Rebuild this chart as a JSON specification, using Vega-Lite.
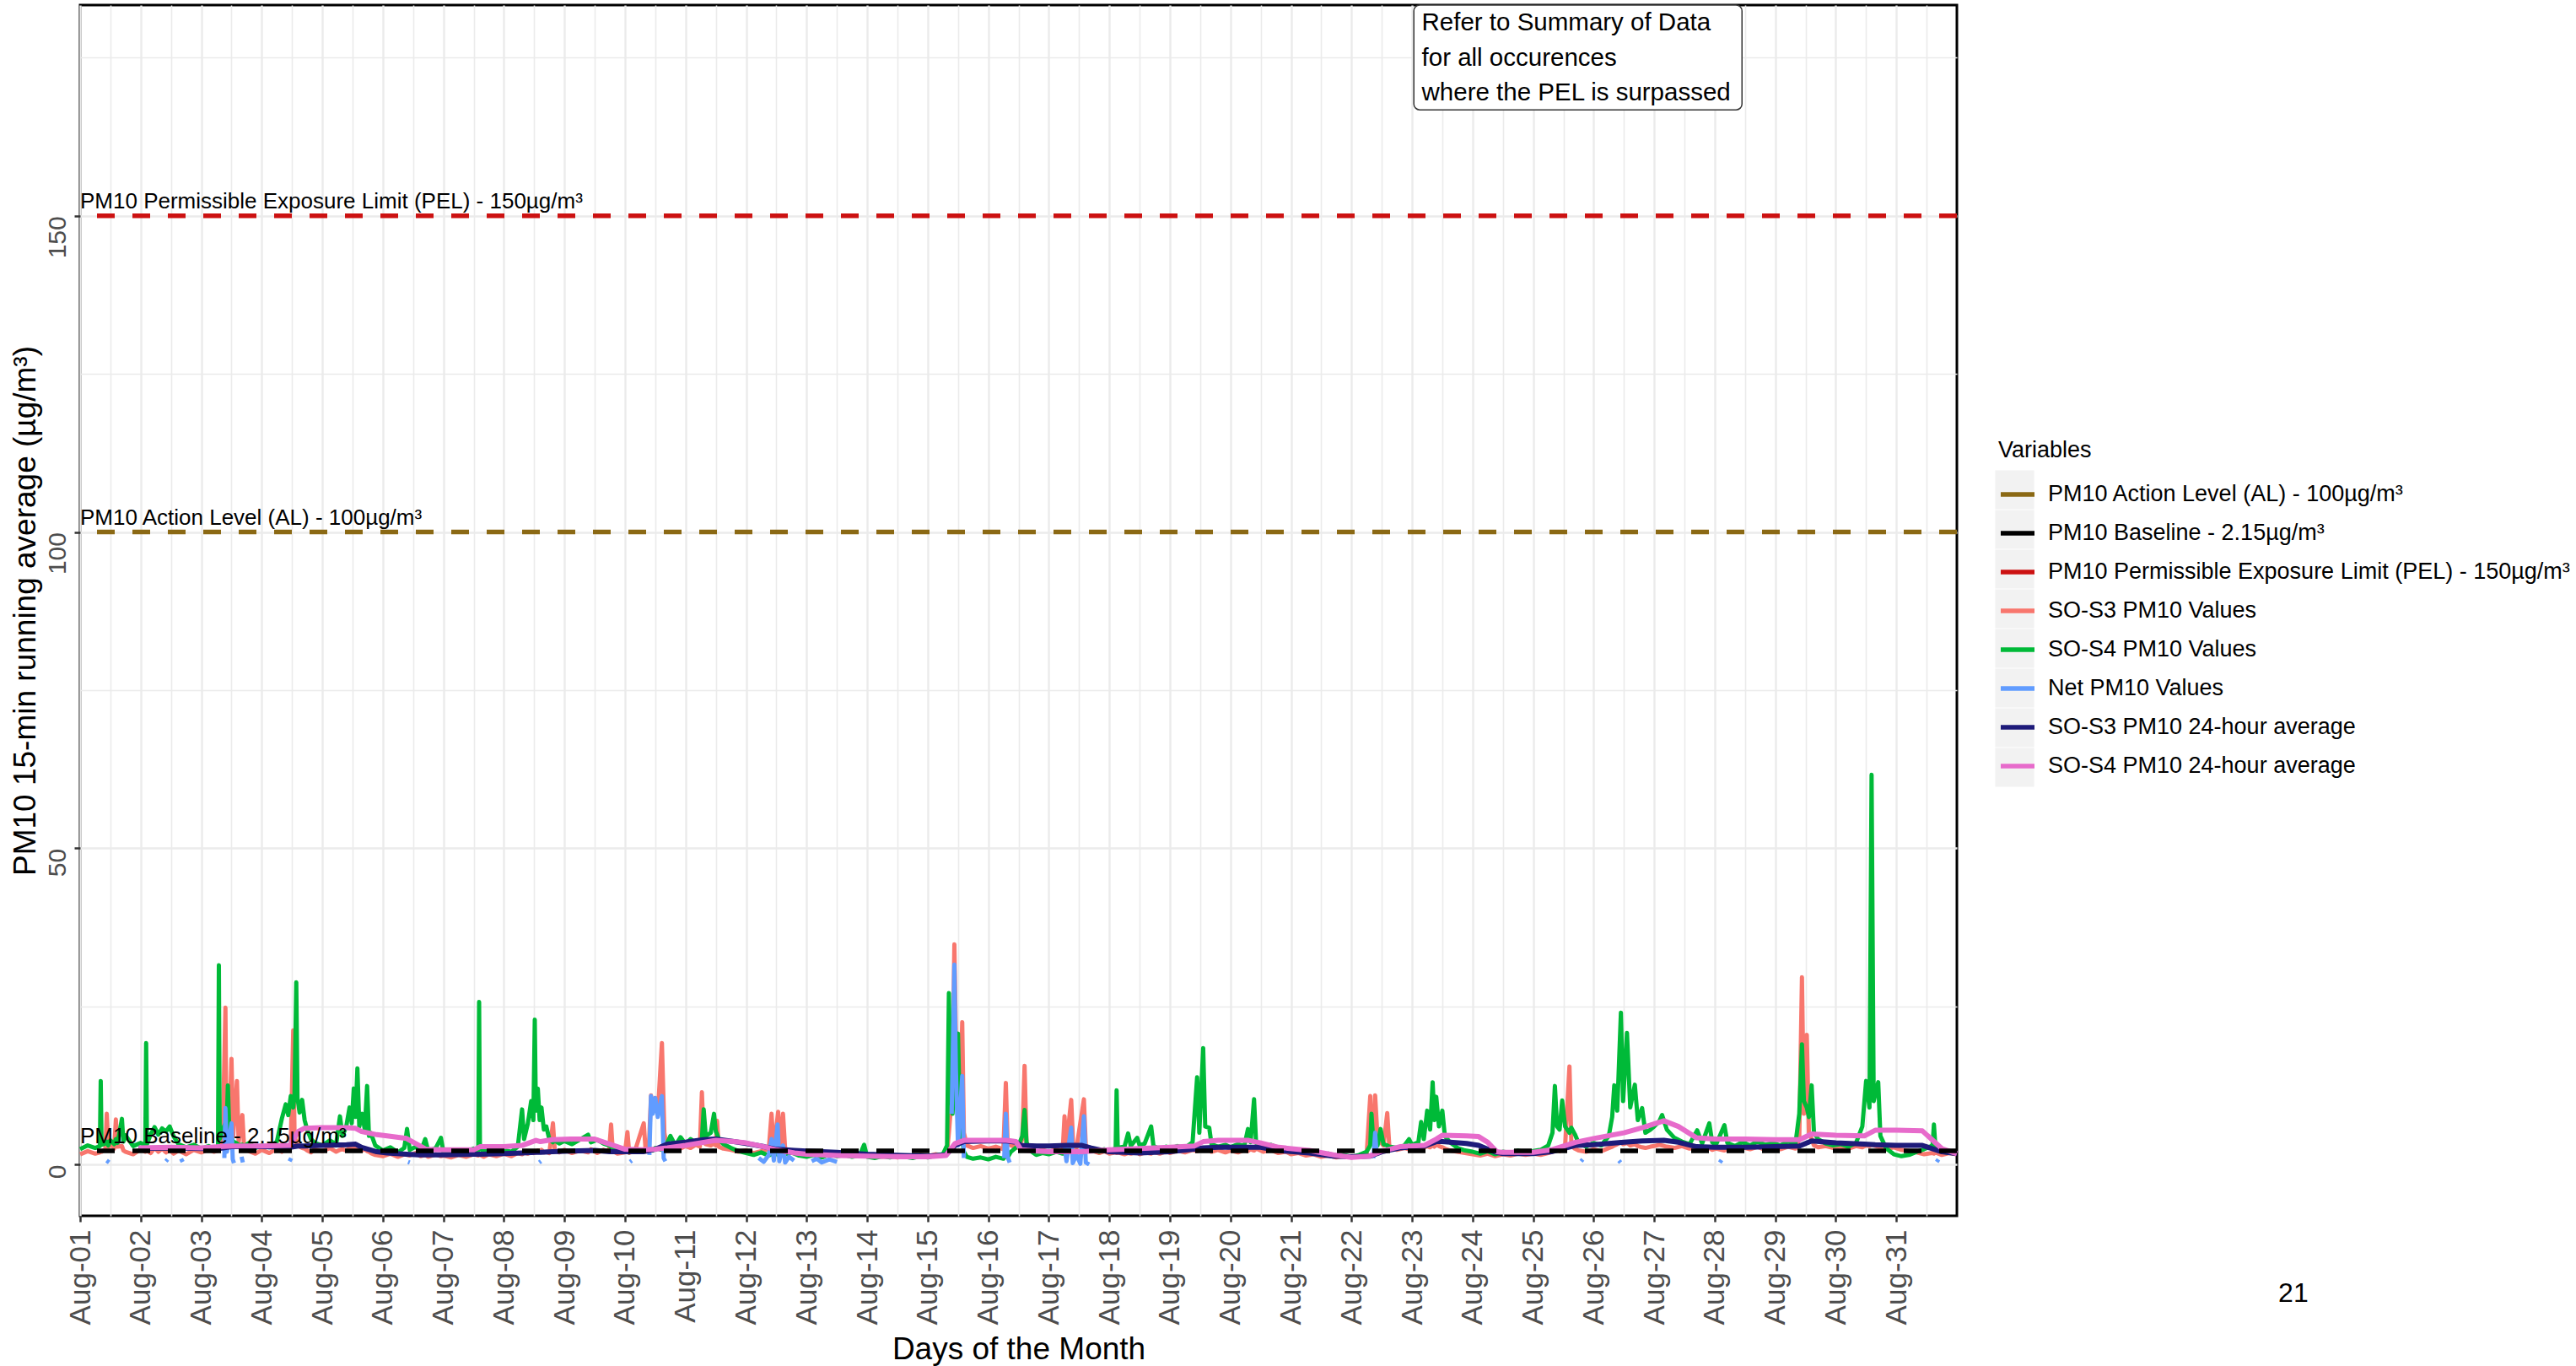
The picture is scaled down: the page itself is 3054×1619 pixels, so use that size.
{
"$schema":"https://vega.github.io/schema/vega-lite/v6.json",
"width":2225,"height":1435,
"autosize":{"type":"none"},
"padding":{"left":95,"top":6,"right":734,"bottom":178},
"background":"white",
"config":{"font":"Liberation Sans","view":{"stroke":"black","strokeWidth":3}},
"datasets":{
"refs":[{"k":"al","t":"2023-08-01T00:00","v":100,"label":"PM10 Action Level (AL) - 100µg/m³"},{"k":"bl","t":"2023-08-01T00:00","v":2.15,"label":"PM10 Baseline - 2.15µg/m³"},{"k":"pel","t":"2023-08-01T00:00","v":150,"label":"PM10 Permissible Exposure Limit (PEL) - 150µg/m³"}],
"keys":[{"q":"1","t":"2023-09-10T00:00","v":500},{"q":"2","t":"2023-09-10T00:00","v":500},{"q":"3","t":"2023-09-10T00:00","v":500},{"q":"4","t":"2023-09-10T00:00","v":500},{"q":"5","t":"2023-09-10T00:00","v":500},{"q":"6","t":"2023-09-10T00:00","v":500},{"q":"7","t":"2023-09-10T00:00","v":500},{"q":"8","t":"2023-09-10T00:00","v":500}],
"note":[{"t":"2023-08-23T00:43","t2":"2023-08-28T10:48","v":166.76,"v2":183.33}],
"noteText":[{"t":"2023-08-23T03:50","v":179.3,"txt":"Refer to Summary of Data"},{"t":"2023-08-23T03:50","v":173.7,"txt":"for all occurences"},{"t":"2023-08-23T03:50","v":168.2,"txt":"where the PEL is surpassed"}],
"page":[{"t":"2023-09-06T13:22","v":-20.4,"txt":"21"}],
"raw":[
{"t":"2023-08-01T00:00","a":1.6,"b":2.4},{"t":"2023-08-01T03:00","a":2.1,"b":3.0},{"t":"2023-08-01T06:00","a":1.7,"b":2.6},{"t":"2023-08-01T07:50","a":1.9,"b":2.9},{"t":"2023-08-01T08:10","a":2.0,"b":13.2},{"t":"2023-08-01T08:30","a":2.0,"b":3.1},{"t":"2023-08-01T10:00","a":2.4,"b":3.3},{"t":"2023-08-01T10:34","a":8.0,"b":3.6},{"t":"2023-08-01T11:10","a":2.6,"b":3.0},{"t":"2023-08-01T12:00","a":3.4,"b":3.8},{"t":"2023-08-01T13:30","a":2.5,"b":3.2},{"t":"2023-08-01T14:10","a":7.1,"b":4.0},{"t":"2023-08-01T14:50","a":2.8,"b":3.4},{"t":"2023-08-01T16:34","a":2.9,"b":7.2},{"t":"2023-08-01T17:10","a":2.2,"b":3.6},{"t":"2023-08-01T18:00","a":2.0,"b":4.6},{"t":"2023-08-01T21:00","a":1.6,"b":2.9},
{"t":"2023-08-02T00:00","a":2.4,"b":3.4},{"t":"2023-08-02T01:50","a":2.0,"b":3.0},{"t":"2023-08-02T02:10","a":2.1,"b":19.2},{"t":"2023-08-02T02:30","a":2.2,"b":3.2},{"t":"2023-08-02T04:00","a":1.8,"b":4.8},{"t":"2023-08-02T05:30","a":2.6,"b":5.9},{"t":"2023-08-02T07:00","a":2.0,"b":4.7},{"t":"2023-08-02T08:30","a":2.5,"b":5.7},{"t":"2023-08-02T10:00","a":1.9,"b":5.2},{"t":"2023-08-02T11:30","a":2.3,"b":6.0},{"t":"2023-08-02T13:00","a":1.7,"b":4.5},{"t":"2023-08-02T15:00","a":2.2,"b":3.2},{"t":"2023-08-02T18:00","a":1.6,"b":2.7},{"t":"2023-08-02T21:00","a":2.3,"b":3.1},
{"t":"2023-08-03T00:00","a":1.9,"b":2.5},{"t":"2023-08-03T03:00","a":2.4,"b":2.9},{"t":"2023-08-03T05:00","a":2.0,"b":2.4},{"t":"2023-08-03T06:40","a":2.2,"b":2.8},{"t":"2023-08-03T07:00","a":2.5,"b":31.5},{"t":"2023-08-03T07:20","a":2.6,"b":4.0},{"t":"2023-08-03T08:30","a":3.5,"b":5.5},{"t":"2023-08-03T09:36","a":24.8,"b":6.5},{"t":"2023-08-03T10:00","a":4.5,"b":5.0},{"t":"2023-08-03T10:34","a":5.0,"b":12.5},{"t":"2023-08-03T11:10","a":6.0,"b":4.6},{"t":"2023-08-03T12:00","a":16.7,"b":4.2},{"t":"2023-08-03T12:40","a":4.5,"b":3.6},{"t":"2023-08-03T14:10","a":13.2,"b":3.3},{"t":"2023-08-03T14:50","a":3.5,"b":3.0},{"t":"2023-08-03T16:19","a":7.8,"b":3.1},{"t":"2023-08-03T17:00","a":2.6,"b":2.9},{"t":"2023-08-03T19:00","a":2.1,"b":3.4},{"t":"2023-08-03T21:30","a":1.7,"b":2.6},
{"t":"2023-08-04T00:00","a":2.3,"b":3.0},{"t":"2023-08-04T03:00","a":1.8,"b":2.7},{"t":"2023-08-04T06:00","a":2.5,"b":3.6},{"t":"2023-08-04T08:00","a":2.0,"b":7.3},{"t":"2023-08-04T09:30","a":2.6,"b":9.5},{"t":"2023-08-04T10:30","a":2.9,"b":7.8},{"t":"2023-08-04T11:30","a":3.0,"b":10.8},{"t":"2023-08-04T12:29","a":21.2,"b":9.0},{"t":"2023-08-04T13:00","a":4.5,"b":11.2},{"t":"2023-08-04T13:41","a":3.5,"b":28.8},{"t":"2023-08-04T14:10","a":3.0,"b":10.5},{"t":"2023-08-04T15:00","a":2.8,"b":8.2},{"t":"2023-08-04T16:00","a":2.6,"b":10.2},{"t":"2023-08-04T17:00","a":2.5,"b":7.0},{"t":"2023-08-04T18:00","a":2.2,"b":5.5},{"t":"2023-08-04T19:30","a":1.9,"b":4.0},{"t":"2023-08-04T21:00","a":2.4,"b":3.4},
{"t":"2023-08-05T00:00","a":2.1,"b":3.0},{"t":"2023-08-05T03:00","a":2.6,"b":3.8},{"t":"2023-08-05T05:30","a":2.0,"b":3.2},{"t":"2023-08-05T07:00","a":2.3,"b":7.6},{"t":"2023-08-05T08:00","a":2.4,"b":4.5},{"t":"2023-08-05T09:30","a":2.2,"b":6.0},{"t":"2023-08-05T10:48","a":2.6,"b":9.0},{"t":"2023-08-05T11:40","a":2.5,"b":6.5},{"t":"2023-08-05T12:29","a":2.8,"b":12.0},{"t":"2023-08-05T13:10","a":2.4,"b":7.5},{"t":"2023-08-05T13:55","a":2.9,"b":15.2},{"t":"2023-08-05T14:40","a":2.5,"b":6.0},{"t":"2023-08-05T15:50","a":2.2,"b":8.0},{"t":"2023-08-05T16:50","a":2.4,"b":5.5},{"t":"2023-08-05T17:46","a":2.1,"b":12.4},{"t":"2023-08-05T18:30","a":2.0,"b":4.5},{"t":"2023-08-05T19:12","a":1.8,"b":5.0},{"t":"2023-08-05T21:00","a":1.5,"b":3.0},
{"t":"2023-08-06T00:00","a":1.3,"b":2.2},{"t":"2023-08-06T03:00","a":1.7,"b":2.7},{"t":"2023-08-06T06:00","a":1.2,"b":1.9},{"t":"2023-08-06T08:30","a":1.6,"b":2.6},{"t":"2023-08-06T09:36","a":1.5,"b":5.6},{"t":"2023-08-06T10:40","a":1.4,"b":2.3},{"t":"2023-08-06T13:00","a":1.8,"b":2.8},{"t":"2023-08-06T15:00","a":1.3,"b":2.0},{"t":"2023-08-06T16:48","a":1.5,"b":4.0},{"t":"2023-08-06T18:00","a":1.2,"b":2.1},{"t":"2023-08-06T21:00","a":1.6,"b":2.6},{"t":"2023-08-06T23:02","a":1.3,"b":4.2},
{"t":"2023-08-07T00:00","a":1.4,"b":2.0},{"t":"2023-08-07T03:00","a":1.1,"b":1.7},{"t":"2023-08-07T06:00","a":1.5,"b":2.3},{"t":"2023-08-07T09:00","a":1.2,"b":1.9},{"t":"2023-08-07T12:00","a":1.6,"b":2.5},{"t":"2023-08-07T13:50","a":1.4,"b":2.2},{"t":"2023-08-07T14:10","a":1.5,"b":25.7},{"t":"2023-08-07T14:30","a":1.5,"b":2.6},{"t":"2023-08-07T16:00","a":1.2,"b":2.0},{"t":"2023-08-07T18:00","a":1.6,"b":2.4},{"t":"2023-08-07T21:00","a":1.3,"b":1.8},
{"t":"2023-08-08T00:00","a":1.7,"b":2.3},{"t":"2023-08-08T03:00","a":1.3,"b":2.0},{"t":"2023-08-08T05:30","a":1.8,"b":2.8},{"t":"2023-08-08T07:12","a":1.6,"b":8.7},{"t":"2023-08-08T08:00","a":1.9,"b":4.0},{"t":"2023-08-08T09:30","a":1.7,"b":6.5},{"t":"2023-08-08T10:48","a":2.0,"b":10.0},{"t":"2023-08-08T11:40","a":1.8,"b":7.0},{"t":"2023-08-08T12:14","a":2.1,"b":22.9},{"t":"2023-08-08T12:40","a":1.9,"b":8.5},{"t":"2023-08-08T13:26","a":2.2,"b":12.0},{"t":"2023-08-08T14:10","a":2.0,"b":7.0},{"t":"2023-08-08T14:53","a":2.3,"b":9.0},{"t":"2023-08-08T15:50","a":1.9,"b":5.5},{"t":"2023-08-08T16:48","a":2.0,"b":6.0},{"t":"2023-08-08T18:00","a":1.8,"b":4.0},{"t":"2023-08-08T19:26","a":6.5,"b":3.5},{"t":"2023-08-08T20:10","a":2.2,"b":3.8},{"t":"2023-08-08T22:00","a":1.9,"b":3.3},
{"t":"2023-08-09T00:00","a":2.3,"b":3.7},{"t":"2023-08-09T03:00","a":1.8,"b":3.2},{"t":"2023-08-09T06:00","a":2.2,"b":3.9},{"t":"2023-08-09T09:22","a":1.9,"b":4.7},{"t":"2023-08-09T10:30","a":2.4,"b":3.5},{"t":"2023-08-09T13:00","a":1.8,"b":3.9},{"t":"2023-08-09T15:30","a":2.3,"b":3.3},{"t":"2023-08-09T17:40","a":2.0,"b":3.0},{"t":"2023-08-09T18:29","a":6.3,"b":2.8},{"t":"2023-08-09T19:10","a":2.1,"b":2.6},{"t":"2023-08-09T21:00","a":1.7,"b":2.2},
{"t":"2023-08-10T00:00","a":1.9,"b":2.0},{"t":"2023-08-10T00:58","a":5.1,"b":2.3},{"t":"2023-08-10T01:40","a":1.8,"b":1.9},{"t":"2023-08-10T04:00","a":2.2,"b":2.4},{"t":"2023-08-10T07:26","a":6.5,"b":2.0},{"t":"2023-08-10T08:10","a":2.3,"b":2.3},{"t":"2023-08-10T09:30","a":3.0,"b":2.1},{"t":"2023-08-10T10:19","a":10.9,"b":2.4},{"t":"2023-08-10T11:00","a":9.0,"b":2.2},{"t":"2023-08-10T12:00","a":10.5,"b":2.6},{"t":"2023-08-10T13:00","a":8.0,"b":2.5},{"t":"2023-08-10T14:38","a":19.2,"b":2.3},{"t":"2023-08-10T15:36","a":5.0,"b":2.8},{"t":"2023-08-10T16:30","a":3.0,"b":3.2},{"t":"2023-08-10T18:00","a":2.6,"b":4.5},{"t":"2023-08-10T20:00","a":2.8,"b":3.0},{"t":"2023-08-10T22:00","a":2.5,"b":4.3},
{"t":"2023-08-11T00:00","a":2.9,"b":3.2},{"t":"2023-08-11T02:00","a":2.6,"b":4.0},{"t":"2023-08-11T04:00","a":3.1,"b":3.4},{"t":"2023-08-11T05:40","a":2.8,"b":3.6},{"t":"2023-08-11T06:29","a":11.4,"b":4.0},{"t":"2023-08-11T07:12","a":3.5,"b":8.7},{"t":"2023-08-11T08:00","a":3.2,"b":4.5},{"t":"2023-08-11T10:00","a":3.0,"b":5.0},{"t":"2023-08-11T11:17","a":3.3,"b":8.0},{"t":"2023-08-11T12:00","a":3.0,"b":5.2},{"t":"2023-08-11T12:29","a":6.9,"b":4.8},{"t":"2023-08-11T13:10","a":2.8,"b":4.0},{"t":"2023-08-11T15:00","a":2.5,"b":3.2},{"t":"2023-08-11T18:00","a":2.3,"b":2.6},{"t":"2023-08-11T21:00","a":2.0,"b":2.1},
{"t":"2023-08-12T00:00","a":2.2,"b":1.8},{"t":"2023-08-12T03:00","a":1.8,"b":1.5},{"t":"2023-08-12T06:00","a":2.1,"b":1.9},{"t":"2023-08-12T09:00","a":2.4,"b":1.4},{"t":"2023-08-12T10:05","a":8.0,"b":1.6},{"t":"2023-08-12T11:00","a":2.5,"b":1.8},{"t":"2023-08-12T12:43","a":8.3,"b":1.5},{"t":"2023-08-12T13:30","a":2.8,"b":1.7},{"t":"2023-08-12T14:38","a":8.0,"b":1.4},{"t":"2023-08-12T15:30","a":2.3,"b":1.6},{"t":"2023-08-12T18:00","a":1.8,"b":1.9},{"t":"2023-08-12T21:00","a":2.0,"b":1.4},
{"t":"2023-08-13T00:00","a":1.6,"b":1.2},{"t":"2023-08-13T03:00","a":1.9,"b":1.5},{"t":"2023-08-13T06:00","a":1.5,"b":1.1},{"t":"2023-08-13T09:00","a":1.8,"b":1.6},{"t":"2023-08-13T12:00","a":1.4,"b":1.3},{"t":"2023-08-13T15:00","a":1.7,"b":1.5},{"t":"2023-08-13T18:00","a":1.3,"b":1.2},{"t":"2023-08-13T21:00","a":1.6,"b":1.4},{"t":"2023-08-13T22:48","a":1.4,"b":3.1},
{"t":"2023-08-14T00:00","a":1.3,"b":1.2},{"t":"2023-08-14T03:00","a":1.5,"b":1.0},{"t":"2023-08-14T06:00","a":1.2,"b":1.3},{"t":"2023-08-14T09:00","a":1.4,"b":1.1},{"t":"2023-08-14T12:00","a":1.1,"b":1.4},{"t":"2023-08-14T15:00","a":1.4,"b":1.2},{"t":"2023-08-14T18:00","a":1.2,"b":1.0},{"t":"2023-08-14T21:00","a":1.5,"b":1.3},
{"t":"2023-08-15T00:00","a":1.3,"b":1.1},{"t":"2023-08-15T03:00","a":1.6,"b":1.4},{"t":"2023-08-15T06:00","a":1.4,"b":1.6},{"t":"2023-08-15T07:40","a":2.0,"b":3.0},{"t":"2023-08-15T08:24","a":5.0,"b":27.1},{"t":"2023-08-15T09:00","a":8.0,"b":12.0},{"t":"2023-08-15T09:50","a":14.0,"b":8.0},{"t":"2023-08-15T10:34","a":34.8,"b":14.0},{"t":"2023-08-15T11:10","a":20.0,"b":10.0},{"t":"2023-08-15T12:00","a":12.0,"b":20.7},{"t":"2023-08-15T12:50","a":9.0,"b":6.0},{"t":"2023-08-15T13:41","a":22.5,"b":4.0},{"t":"2023-08-15T14:20","a":5.0,"b":2.0},{"t":"2023-08-15T15:30","a":3.0,"b":1.2},{"t":"2023-08-15T18:00","a":2.6,"b":0.9},{"t":"2023-08-15T21:00","a":2.9,"b":1.1},
{"t":"2023-08-16T00:00","a":2.5,"b":0.8},{"t":"2023-08-16T03:00","a":2.8,"b":1.2},{"t":"2023-08-16T06:00","a":2.4,"b":0.9},{"t":"2023-08-16T06:58","a":12.9,"b":1.5},{"t":"2023-08-16T07:40","a":3.5,"b":1.1},{"t":"2023-08-16T09:00","a":3.0,"b":2.0},{"t":"2023-08-16T12:00","a":2.6,"b":3.0},{"t":"2023-08-16T13:30","a":4.0,"b":4.5},{"t":"2023-08-16T14:24","a":15.6,"b":8.6},{"t":"2023-08-16T15:10","a":3.5,"b":3.5},{"t":"2023-08-16T16:30","a":2.5,"b":2.2},{"t":"2023-08-16T19:00","a":2.0,"b":1.5},{"t":"2023-08-16T21:30","a":2.3,"b":1.8},
{"t":"2023-08-17T00:00","a":2.0,"b":1.6},{"t":"2023-08-17T03:00","a":2.4,"b":2.0},{"t":"2023-08-17T05:30","a":2.1,"b":1.7},{"t":"2023-08-17T06:14","a":7.6,"b":1.9},{"t":"2023-08-17T07:00","a":3.0,"b":1.8},{"t":"2023-08-17T08:53","a":10.2,"b":2.0},{"t":"2023-08-17T09:40","a":3.0,"b":1.7},{"t":"2023-08-17T11:00","a":2.6,"b":2.1},{"t":"2023-08-17T13:55","a":10.3,"b":1.9},{"t":"2023-08-17T14:40","a":2.8,"b":2.0},{"t":"2023-08-17T17:00","a":2.2,"b":2.3},{"t":"2023-08-17T20:00","a":1.8,"b":2.0},{"t":"2023-08-17T22:00","a":2.1,"b":2.4},
{"t":"2023-08-18T00:00","a":1.7,"b":2.2},{"t":"2023-08-18T02:30","a":1.9,"b":2.5},{"t":"2023-08-18T02:53","a":1.8,"b":11.7},{"t":"2023-08-18T03:20","a":1.9,"b":2.6},{"t":"2023-08-18T06:00","a":1.6,"b":2.8},{"t":"2023-08-18T07:26","a":1.8,"b":4.9},{"t":"2023-08-18T08:30","a":1.7,"b":2.9},{"t":"2023-08-18T11:02","a":2.0,"b":4.2},{"t":"2023-08-18T12:00","a":1.6,"b":3.0},{"t":"2023-08-18T14:00","a":1.9,"b":3.3},{"t":"2023-08-18T16:34","a":1.7,"b":6.0},{"t":"2023-08-18T17:30","a":2.0,"b":2.9},{"t":"2023-08-18T20:00","a":1.7,"b":2.4},{"t":"2023-08-18T22:30","a":2.1,"b":2.8},
{"t":"2023-08-19T00:00","a":1.8,"b":2.5},{"t":"2023-08-19T03:00","a":2.2,"b":2.9},{"t":"2023-08-19T06:00","a":1.9,"b":2.6},{"t":"2023-08-19T09:00","a":2.3,"b":3.5},{"t":"2023-08-19T10:48","a":2.1,"b":13.8},{"t":"2023-08-19T11:40","a":2.4,"b":5.0},{"t":"2023-08-19T13:12","a":2.5,"b":18.4},{"t":"2023-08-19T14:00","a":2.2,"b":6.0},{"t":"2023-08-19T15:36","a":2.4,"b":5.8},{"t":"2023-08-19T16:30","a":2.0,"b":3.2},{"t":"2023-08-19T19:00","a":2.3,"b":2.8},{"t":"2023-08-19T22:00","a":1.9,"b":3.1},
{"t":"2023-08-20T00:00","a":2.2,"b":2.7},{"t":"2023-08-20T03:00","a":1.9,"b":3.2},{"t":"2023-08-20T05:30","a":2.3,"b":2.9},{"t":"2023-08-20T06:58","a":2.1,"b":5.6},{"t":"2023-08-20T08:00","a":2.4,"b":3.5},{"t":"2023-08-20T09:22","a":2.2,"b":10.3},{"t":"2023-08-20T10:10","a":2.5,"b":3.4},{"t":"2023-08-20T13:00","a":2.0,"b":2.8},{"t":"2023-08-20T16:00","a":2.3,"b":3.1},{"t":"2023-08-20T19:00","a":1.8,"b":2.6},{"t":"2023-08-20T22:00","a":2.0,"b":2.3},
{"t":"2023-08-21T00:00","a":1.6,"b":2.0},{"t":"2023-08-21T03:00","a":1.8,"b":2.2},{"t":"2023-08-21T06:00","a":1.4,"b":1.8},{"t":"2023-08-21T09:00","a":1.6,"b":2.0},{"t":"2023-08-21T12:00","a":1.2,"b":1.5},{"t":"2023-08-21T15:00","a":1.4,"b":1.7},{"t":"2023-08-21T18:00","a":1.1,"b":1.3},{"t":"2023-08-21T21:00","a":1.3,"b":1.5},
{"t":"2023-08-22T00:00","a":1.1,"b":1.2},{"t":"2023-08-22T03:00","a":1.3,"b":1.5},{"t":"2023-08-22T06:00","a":1.5,"b":2.0},{"t":"2023-08-22T07:26","a":10.8,"b":3.0},{"t":"2023-08-22T07:55","a":5.0,"b":8.0},{"t":"2023-08-22T08:40","a":4.0,"b":3.5},{"t":"2023-08-22T09:22","a":10.9,"b":4.0},{"t":"2023-08-22T10:20","a":4.0,"b":3.0},{"t":"2023-08-22T11:31","a":3.5,"b":5.6},{"t":"2023-08-22T12:40","a":3.0,"b":3.2},{"t":"2023-08-22T14:10","a":8.1,"b":3.0},{"t":"2023-08-22T15:00","a":2.8,"b":2.8},{"t":"2023-08-22T18:00","a":2.3,"b":2.6},{"t":"2023-08-22T21:00","a":2.6,"b":3.0},{"t":"2023-08-22T22:48","a":2.4,"b":4.0},
{"t":"2023-08-23T00:00","a":2.7,"b":3.1},{"t":"2023-08-23T02:30","a":2.5,"b":3.5},{"t":"2023-08-23T03:36","a":2.8,"b":6.7},{"t":"2023-08-23T04:40","a":2.6,"b":4.0},{"t":"2023-08-23T06:00","a":2.9,"b":8.5},{"t":"2023-08-23T07:10","a":2.7,"b":5.5},{"t":"2023-08-23T08:10","a":3.0,"b":13.0},{"t":"2023-08-23T08:50","a":2.8,"b":7.0},{"t":"2023-08-23T09:36","a":3.1,"b":10.7},{"t":"2023-08-23T10:40","a":2.9,"b":6.0},{"t":"2023-08-23T12:00","a":2.7,"b":8.5},{"t":"2023-08-23T13:00","a":2.5,"b":4.5},{"t":"2023-08-23T15:00","a":2.2,"b":3.5},{"t":"2023-08-23T18:00","a":2.0,"b":2.6},{"t":"2023-08-23T21:00","a":1.8,"b":2.2},
{"t":"2023-08-24T00:00","a":1.6,"b":2.0},{"t":"2023-08-24T03:00","a":1.4,"b":1.7},{"t":"2023-08-24T06:00","a":1.7,"b":2.1},{"t":"2023-08-24T09:00","a":1.3,"b":1.6},{"t":"2023-08-24T12:00","a":1.6,"b":2.0},{"t":"2023-08-24T15:00","a":1.4,"b":1.8},{"t":"2023-08-24T18:00","a":1.7,"b":2.2},{"t":"2023-08-24T21:00","a":1.5,"b":1.9},
{"t":"2023-08-25T00:00","a":1.7,"b":2.1},{"t":"2023-08-25T03:00","a":1.5,"b":2.3},{"t":"2023-08-25T06:00","a":1.8,"b":3.0},{"t":"2023-08-25T07:40","a":2.0,"b":5.0},{"t":"2023-08-25T08:38","a":2.2,"b":12.4},{"t":"2023-08-25T09:30","a":2.4,"b":6.0},{"t":"2023-08-25T10:30","a":2.1,"b":5.5},{"t":"2023-08-25T11:31","a":2.6,"b":10.1},{"t":"2023-08-25T12:40","a":2.8,"b":6.0},{"t":"2023-08-25T14:24","a":15.5,"b":5.0},{"t":"2023-08-25T15:10","a":3.0,"b":5.8},{"t":"2023-08-25T16:30","a":2.5,"b":4.8},{"t":"2023-08-25T18:00","a":2.2,"b":3.4},{"t":"2023-08-25T21:00","a":2.0,"b":2.8},
{"t":"2023-08-26T00:00","a":2.4,"b":3.4},{"t":"2023-08-26T03:00","a":2.1,"b":3.0},{"t":"2023-08-26T06:00","a":2.6,"b":4.5},{"t":"2023-08-26T07:20","a":2.8,"b":7.5},{"t":"2023-08-26T08:10","a":3.0,"b":12.5},{"t":"2023-08-26T09:20","a":3.2,"b":8.5},{"t":"2023-08-26T10:48","a":3.5,"b":24.0},{"t":"2023-08-26T11:40","a":3.2,"b":10.0},{"t":"2023-08-26T13:12","a":3.4,"b":20.8},{"t":"2023-08-26T14:30","a":3.0,"b":9.0},{"t":"2023-08-26T16:19","a":3.2,"b":12.6},{"t":"2023-08-26T17:30","a":2.9,"b":7.0},{"t":"2023-08-26T19:12","a":2.7,"b":8.9},{"t":"2023-08-26T20:30","a":2.6,"b":5.0},{"t":"2023-08-26T22:30","a":2.8,"b":5.5},
{"t":"2023-08-27T00:00","a":2.9,"b":6.0},{"t":"2023-08-27T02:00","a":3.1,"b":6.8},{"t":"2023-08-27T03:07","a":3.0,"b":7.8},{"t":"2023-08-27T05:00","a":2.8,"b":5.5},{"t":"2023-08-27T08:00","a":2.6,"b":4.2},{"t":"2023-08-27T11:00","a":2.9,"b":3.6},{"t":"2023-08-27T14:00","a":2.5,"b":3.2},{"t":"2023-08-27T17:02","a":2.7,"b":5.4},{"t":"2023-08-27T19:00","a":2.4,"b":3.3},{"t":"2023-08-27T21:50","a":2.6,"b":6.5},{"t":"2023-08-27T23:00","a":2.3,"b":3.5},
{"t":"2023-08-28T00:30","a":2.5,"b":3.1},{"t":"2023-08-28T03:50","a":2.2,"b":6.2},{"t":"2023-08-28T05:00","a":2.6,"b":3.4},{"t":"2023-08-28T08:00","a":2.3,"b":2.9},{"t":"2023-08-28T11:00","a":2.7,"b":3.5},{"t":"2023-08-28T14:00","a":2.4,"b":3.0},{"t":"2023-08-28T17:00","a":2.8,"b":3.6},{"t":"2023-08-28T20:00","a":2.3,"b":3.1},{"t":"2023-08-28T23:00","a":2.6,"b":3.4},
{"t":"2023-08-29T02:00","a":2.4,"b":3.0},{"t":"2023-08-29T05:00","a":2.8,"b":3.6},{"t":"2023-08-29T08:00","a":2.5,"b":3.3},{"t":"2023-08-29T09:30","a":4.0,"b":8.0},{"t":"2023-08-29T10:34","a":29.6,"b":19.0},{"t":"2023-08-29T11:20","a":8.0,"b":10.0},{"t":"2023-08-29T12:29","a":20.5,"b":9.0},{"t":"2023-08-29T13:20","a":5.0,"b":7.5},{"t":"2023-08-29T14:24","a":4.0,"b":12.5},{"t":"2023-08-29T15:20","a":3.0,"b":5.0},{"t":"2023-08-29T17:00","a":2.7,"b":4.0},{"t":"2023-08-29T20:00","a":2.9,"b":3.3},{"t":"2023-08-29T23:00","a":2.6,"b":3.0},
{"t":"2023-08-30T02:00","a":2.8,"b":3.2},{"t":"2023-08-30T05:00","a":2.5,"b":2.8},{"t":"2023-08-30T08:00","a":2.9,"b":3.4},{"t":"2023-08-30T10:30","a":2.7,"b":6.0},{"t":"2023-08-30T12:00","a":3.0,"b":13.2},{"t":"2023-08-30T13:20","a":2.9,"b":9.0},{"t":"2023-08-30T14:10","a":3.1,"b":61.6},{"t":"2023-08-30T15:00","a":3.0,"b":10.0},{"t":"2023-08-30T16:48","a":2.8,"b":13.0},{"t":"2023-08-30T17:40","a":2.6,"b":4.5},{"t":"2023-08-30T20:00","a":2.4,"b":2.5},{"t":"2023-08-30T23:00","a":2.7,"b":1.6},
{"t":"2023-08-31T02:00","a":2.3,"b":1.3},{"t":"2023-08-31T05:00","a":2.1,"b":1.5},{"t":"2023-08-31T08:00","a":1.9,"b":2.0},{"t":"2023-08-31T11:00","a":1.6,"b":2.4},{"t":"2023-08-31T14:20","a":1.8,"b":3.0},{"t":"2023-08-31T14:53","a":1.7,"b":6.3},{"t":"2023-08-31T15:30","a":1.9,"b":2.6},{"t":"2023-08-31T18:00","a":1.5,"b":2.0},{"t":"2023-08-31T21:00","a":1.8,"b":1.8},{"t":"2023-08-31T23:45","a":1.6,"b":1.9}
],
"net":[
{"t":"2023-08-01T10:30","g":1,"v":0.6},{"t":"2023-08-01T11:30","g":1,"v":0.3},
{"t":"2023-08-02T10:00","g":2,"v":0.5},{"t":"2023-08-02T10:40","g":2,"v":0.8},
{"t":"2023-08-02T16:00","g":3,"v":0.9},{"t":"2023-08-02T16:40","g":3,"v":0.4},
{"t":"2023-08-03T09:10","g":4,"v":1.0},{"t":"2023-08-03T09:36","g":4,"v":8.9},{"t":"2023-08-03T10:10","g":4,"v":2.0},{"t":"2023-08-03T12:00","g":4,"v":6.5},{"t":"2023-08-03T12:30","g":4,"v":0.8},{"t":"2023-08-03T13:00","g":4,"v":0.2},
{"t":"2023-08-03T16:00","g":5,"v":1.2},{"t":"2023-08-03T16:30","g":5,"v":0.3},
{"t":"2023-08-04T11:00","g":6,"v":0.5},{"t":"2023-08-04T11:40","g":6,"v":1.0},
{"t":"2023-08-06T10:00","g":7,"v":0.4},{"t":"2023-08-06T10:40","g":7,"v":0.3},
{"t":"2023-08-08T14:00","g":8,"v":0.3},{"t":"2023-08-08T14:40","g":8,"v":0.5},
{"t":"2023-08-10T02:00","g":9,"v":0.4},{"t":"2023-08-10T02:40","g":9,"v":0.6},
{"t":"2023-08-10T09:40","g":10,"v":1.5},{"t":"2023-08-10T10:19","g":10,"v":10.8},{"t":"2023-08-10T11:00","g":10,"v":8.0},{"t":"2023-08-10T12:00","g":10,"v":10.5},{"t":"2023-08-10T13:00","g":10,"v":7.5},{"t":"2023-08-10T14:38","g":10,"v":10.8},{"t":"2023-08-10T15:20","g":10,"v":1.0},{"t":"2023-08-10T16:00","g":10,"v":0.5},
{"t":"2023-08-12T05:00","g":11,"v":1.0},{"t":"2023-08-12T07:00","g":11,"v":0.4},{"t":"2023-08-12T09:00","g":11,"v":1.5},{"t":"2023-08-12T10:05","g":11,"v":4.0},{"t":"2023-08-12T11:00","g":11,"v":0.6},{"t":"2023-08-12T12:29","g":11,"v":6.3},{"t":"2023-08-12T13:10","g":11,"v":0.5},{"t":"2023-08-12T14:38","g":11,"v":3.0},{"t":"2023-08-12T15:30","g":11,"v":0.3},{"t":"2023-08-12T17:00","g":11,"v":1.2},{"t":"2023-08-12T19:00","g":11,"v":0.6},
{"t":"2023-08-13T02:00","g":12,"v":0.5},{"t":"2023-08-13T04:00","g":12,"v":0.9},{"t":"2023-08-13T06:00","g":12,"v":0.3},{"t":"2023-08-13T09:00","g":12,"v":0.8},{"t":"2023-08-13T12:00","g":12,"v":0.4},
{"t":"2023-08-15T09:30","g":13,"v":8.0},{"t":"2023-08-15T10:34","g":13,"v":31.6},{"t":"2023-08-15T11:10","g":13,"v":15.0},{"t":"2023-08-15T12:00","g":13,"v":3.0},{"t":"2023-08-15T13:41","g":13,"v":14.0},{"t":"2023-08-15T14:20","g":13,"v":1.0},
{"t":"2023-08-16T06:20","g":14,"v":1.0},{"t":"2023-08-16T06:58","g":14,"v":8.0},{"t":"2023-08-16T07:40","g":14,"v":1.2},{"t":"2023-08-16T08:30","g":14,"v":0.3},
{"t":"2023-08-17T06:14","g":15,"v":3.0},{"t":"2023-08-17T07:00","g":15,"v":0.5},{"t":"2023-08-17T08:53","g":15,"v":5.8},{"t":"2023-08-17T09:30","g":15,"v":0.2},{"t":"2023-08-17T11:00","g":15,"v":1.5},{"t":"2023-08-17T12:30","g":15,"v":0.1},{"t":"2023-08-17T13:55","g":15,"v":7.6},{"t":"2023-08-17T14:40","g":15,"v":0.3},{"t":"2023-08-17T16:00","g":15,"v":0.0},
{"t":"2023-08-22T08:40","g":16,"v":1.0},{"t":"2023-08-22T09:22","g":16,"v":5.0},{"t":"2023-08-22T10:00","g":16,"v":1.5},
{"t":"2023-08-25T19:00","g":17,"v":0.5},{"t":"2023-08-25T19:40","g":17,"v":0.8},
{"t":"2023-08-26T10:00","g":18,"v":0.6},{"t":"2023-08-26T10:40","g":18,"v":0.3},
{"t":"2023-08-28T02:00","g":19,"v":0.3},{"t":"2023-08-28T02:40","g":19,"v":0.7},
{"t":"2023-08-31T16:00","g":20,"v":0.4},{"t":"2023-08-31T16:40","g":20,"v":0.8}
],
"avg":[
{"t":"2023-08-01T23:15","c":2.5,"d":2.6},{"t":"2023-08-02T12:00","c":2.6,"d":2.7},{"t":"2023-08-03T00:00","c":2.5,"d":2.6},{"t":"2023-08-03T07:00","c":2.5,"d":2.8},{"t":"2023-08-03T12:00","c":2.8,"d":2.9},{"t":"2023-08-04T00:00","c":2.8,"d":2.9},{"t":"2023-08-04T11:17","c":2.7,"d":3.0},{"t":"2023-08-04T14:24","c":2.9,"d":5.2},{"t":"2023-08-04T16:48","c":2.9,"d":5.7},{"t":"2023-08-05T00:00","c":3.0,"d":5.8},{"t":"2023-08-05T09:36","c":3.1,"d":5.8},{"t":"2023-08-05T13:12","c":3.2,"d":5.7},{"t":"2023-08-05T15:36","c":2.7,"d":5.2},{"t":"2023-08-05T21:36","c":2.0,"d":4.7},{"t":"2023-08-06T01:41","c":1.8,"d":4.5},{"t":"2023-08-06T09:22","c":1.6,"d":4.1},{"t":"2023-08-06T14:24","c":1.5,"d":3.0},{"t":"2023-08-06T17:02","c":1.5,"d":2.4},{"t":"2023-08-07T00:00","c":1.5,"d":2.3},{"t":"2023-08-07T12:00","c":1.6,"d":2.3},{"t":"2023-08-07T14:30","c":1.6,"d":2.8},{"t":"2023-08-08T00:00","c":1.7,"d":2.8},{"t":"2023-08-08T07:12","c":1.8,"d":3.0},{"t":"2023-08-08T12:43","c":1.9,"d":3.8},{"t":"2023-08-08T14:30","c":1.9,"d":3.6},{"t":"2023-08-08T19:12","c":2.0,"d":3.9},{"t":"2023-08-09T02:24","c":2.1,"d":4.0},{"t":"2023-08-09T12:00","c":2.2,"d":4.0},{"t":"2023-08-09T18:00","c":2.0,"d":3.2},{"t":"2023-08-10T00:00","c":2.0,"d":2.4},{"t":"2023-08-10T07:12","c":2.0,"d":2.3},{"t":"2023-08-10T12:00","c":2.4,"d":2.4},{"t":"2023-08-10T16:48","c":3.2,"d":2.6},{"t":"2023-08-11T00:00","c":3.5,"d":3.0},{"t":"2023-08-11T07:12","c":3.9,"d":3.5},{"t":"2023-08-11T12:00","c":4.0,"d":3.8},{"t":"2023-08-11T19:12","c":3.6,"d":3.6},{"t":"2023-08-12T00:00","c":3.3,"d":3.4},{"t":"2023-08-12T07:12","c":2.8,"d":2.8},{"t":"2023-08-12T12:00","c":2.4,"d":2.3},{"t":"2023-08-12T19:12","c":2.2,"d":1.8},{"t":"2023-08-13T00:00","c":2.1,"d":1.6},{"t":"2023-08-13T12:00","c":1.9,"d":1.4},{"t":"2023-08-14T00:00","c":1.6,"d":1.3},{"t":"2023-08-14T14:24","c":1.4,"d":1.2},{"t":"2023-08-15T00:00","c":1.3,"d":1.2},{"t":"2023-08-15T07:12","c":1.5,"d":1.4},{"t":"2023-08-15T10:48","c":3.0,"d":3.3},{"t":"2023-08-15T14:24","c":3.6,"d":3.8},{"t":"2023-08-16T00:00","c":3.7,"d":3.8},{"t":"2023-08-16T07:12","c":3.7,"d":3.8},{"t":"2023-08-16T11:00","c":3.5,"d":3.6},{"t":"2023-08-16T13:00","c":3.0,"d":2.3},{"t":"2023-08-16T19:12","c":2.9,"d":2.1},{"t":"2023-08-17T00:00","c":2.9,"d":2.0},{"t":"2023-08-17T07:12","c":3.0,"d":2.0},{"t":"2023-08-17T13:12","c":3.0,"d":2.0},{"t":"2023-08-17T16:48","c":2.6,"d":2.1},{"t":"2023-08-18T00:00","c":2.0,"d":2.3},{"t":"2023-08-18T12:00","c":1.8,"d":2.5},{"t":"2023-08-19T00:00","c":2.0,"d":2.7},{"t":"2023-08-19T09:36","c":2.4,"d":2.9},{"t":"2023-08-19T13:12","c":2.6,"d":3.6},{"t":"2023-08-19T19:12","c":2.7,"d":3.8},{"t":"2023-08-20T07:12","c":2.7,"d":3.8},{"t":"2023-08-20T12:00","c":2.7,"d":3.4},{"t":"2023-08-20T19:12","c":2.2,"d":2.7},{"t":"2023-08-21T07:12","c":1.8,"d":2.2},{"t":"2023-08-21T16:48","c":1.3,"d":1.5},{"t":"2023-08-22T00:00","c":1.2,"d":1.1},{"t":"2023-08-22T07:12","c":1.3,"d":1.3},{"t":"2023-08-22T12:00","c":2.0,"d":2.1},{"t":"2023-08-22T19:12","c":2.6,"d":2.8},{"t":"2023-08-23T04:48","c":2.9,"d":3.0},{"t":"2023-08-23T09:36","c":3.6,"d":4.0},{"t":"2023-08-23T12:00","c":3.6,"d":4.6},{"t":"2023-08-23T21:36","c":3.3,"d":4.5},{"t":"2023-08-24T02:24","c":3.0,"d":4.4},{"t":"2023-08-24T06:00","c":2.4,"d":3.5},{"t":"2023-08-24T09:36","c":1.9,"d":2.0},{"t":"2023-08-24T12:00","c":1.7,"d":1.9},{"t":"2023-08-25T00:00","c":1.7,"d":1.9},{"t":"2023-08-25T07:12","c":2.0,"d":2.3},{"t":"2023-08-25T16:48","c":3.0,"d":3.5},{"t":"2023-08-26T00:00","c":3.1,"d":4.1},{"t":"2023-08-26T12:00","c":3.5,"d":5.0},{"t":"2023-08-26T19:12","c":3.7,"d":5.8},{"t":"2023-08-27T03:50","c":3.8,"d":6.9},{"t":"2023-08-27T09:36","c":3.5,"d":6.0},{"t":"2023-08-27T16:48","c":2.8,"d":4.2},{"t":"2023-08-28T00:00","c":2.7,"d":4.0},{"t":"2023-08-28T12:00","c":2.7,"d":4.0},{"t":"2023-08-29T00:00","c":2.8,"d":3.9},{"t":"2023-08-29T09:36","c":2.9,"d":3.9},{"t":"2023-08-29T14:24","c":3.7,"d":4.8},{"t":"2023-08-30T00:00","c":3.4,"d":4.6},{"t":"2023-08-30T11:17","c":3.2,"d":4.5},{"t":"2023-08-30T15:36","c":3.1,"d":5.4},{"t":"2023-08-31T00:00","c":3.0,"d":5.4},{"t":"2023-08-31T10:19","c":3.0,"d":5.3},{"t":"2023-08-31T18:00","c":2.0,"d":2.5},{"t":"2023-08-31T23:59","c":1.7,"d":1.7}
]
},
"layer":[
{"data":{"name":"raw"},
 "transform":[{"fold":["a","b"],"as":["k","v"]}],
 "mark":{"type":"line","strokeWidth":5,"strokeJoin":"round"},
 "encoding":{
  "x":{"field":"t","type":"temporal",
   "scale":{"domain":[{"year":2023,"month":8,"date":1,"hours":0},{"year":2023,"month":8,"date":31,"hours":23,"minutes":59}],"nice":false},
   "axis":{"title":"Days of the Month","format":"%b-%d","tickCount":62,
    "labelExpr":"hours(datum.value) == 0 ? datum.label : ''",
    "labelAngle":270,"labelAlign":"right","labelBaseline":"middle","labelFontSize":35,"labelColor":"#4D4D4D","labelPadding":9,"labelOverlap":false,
    "tickSize":7,"tickColor":"#333333","tickWidth":2.5,
    "tickOpacity":{"condition":{"test":"hours(datum.value) != 0","value":0},"value":1},
    "grid":true,"gridColor":"#EBEBEB",
    "gridWidth":{"condition":{"test":"hours(datum.value) != 0","value":1.6},"value":2.4},
    "domain":false,"titleFontSize":37,"titleFontWeight":"normal","titleColor":"black","titlePadding":12}},
  "y":{"field":"v","type":"quantitative",
   "scale":{"domain":[-8.13,183.33],"nice":false,"zero":false},
   "axis":{"title":"PM10 15-min running average (µg/m³)","values":[0,25,50,75,100,125,150,175],
    "labelExpr":"datum.value % 50 == 0 ? datum.label : ''",
    "labelAngle":270,"labelAlign":"right","labelBaseline":"bottom","labelFontSize":30,"labelColor":"#4D4D4D","labelPadding":5,
    "tickSize":7,"tickColor":"#333333","tickWidth":2.5,
    "tickOpacity":{"condition":{"test":"datum.value % 50 != 0","value":0},"value":1},
    "grid":true,"gridColor":"#EBEBEB",
    "gridWidth":{"condition":{"test":"datum.value % 50 != 0","value":1.6},"value":2.4},
    "domain":false,"titleFontSize":37,"titleFontWeight":"normal","titleColor":"black","titlePadding":4}},
  "color":{"field":"k","type":"nominal",
   "scale":{"domain":["al","bl","pel","a","b","n","c","d"],
    "range":["#8B6914","#000000","#CC1111","#F8766D","#00BA38","#619CFF","#1E1B7A","#E76BCB"]},
   "legend":{"title":"Variables","orient":"none","legendX":2274,"legendY":515,"zindex":2,"titleFontSize":27,"titleFontWeight":"normal","titleColor":"black","titlePadding":15,
    "labelExpr":"datum.label == 'al' ? 'PM10 Action Level (AL) - 100µg/m³' : datum.label == 'bl' ? 'PM10 Baseline - 2.15µg/m³' : datum.label == 'pel' ? 'PM10 Permissible Exposure Limit (PEL) - 150µg/m³' : datum.label == 'a' ? 'SO-S3 PM10 Values' : datum.label == 'b' ? 'SO-S4 PM10 Values' : datum.label == 'n' ? 'Net PM10 Values' : datum.label == 'c' ? 'SO-S3 PM10 24-hour average' : 'SO-S4 PM10 24-hour average'",
    "labelFontSize":27,"labelColor":"black","labelLimit":1000,"labelOffset":13,"symbolType":"stroke","symbolStrokeWidth":5.5,"symbolSize":1600,"rowPadding":10}}
 }},
{"data":{"name":"net"},
 "mark":{"type":"line","strokeWidth":5,"strokeJoin":"round"},
 "encoding":{"x":{"field":"t","type":"temporal"},"y":{"field":"v","type":"quantitative"},"color":{"datum":"n"},"detail":{"field":"g","type":"nominal"}}},
{"data":{"name":"avg"},
 "transform":[{"fold":["c","d"],"as":["k","v"]}],
 "mark":{"type":"line","strokeWidth":6,"strokeJoin":"round"},
 "encoding":{"x":{"field":"t","type":"temporal"},"y":{"field":"v","type":"quantitative"},"color":{"field":"k","type":"nominal"}}},
{"data":{"name":"refs"},
 "mark":{"type":"rule","strokeDash":[21,21],"strokeWidth":5.5},
 "encoding":{"y":{"field":"v","type":"quantitative"},"color":{"field":"k","type":"nominal"}}},
{"data":{"name":"refs"},
 "mark":{"type":"text","align":"left","baseline":"alphabetic","dy":-9,"fontSize":26,"color":"black"},
 "encoding":{"x":{"field":"t","type":"temporal"},"y":{"field":"v","type":"quantitative"},"text":{"field":"label"}}},
{"data":{"name":"note"},
 "mark":{"type":"rect","fill":"white","stroke":"#333333","strokeWidth":1.5,"cornerRadius":7},
 "encoding":{"x":{"field":"t","type":"temporal"},"x2":{"field":"t2"},"y":{"field":"v","type":"quantitative"},"y2":{"field":"v2"}}},
{"data":{"name":"noteText"},
 "mark":{"type":"text","align":"left","baseline":"alphabetic","fontSize":29.5,"color":"black"},
 "encoding":{"x":{"field":"t","type":"temporal"},"y":{"field":"v","type":"quantitative"},"text":{"field":"txt"}}},
{"data":{"name":"page"},
 "mark":{"type":"text","align":"center","baseline":"middle","fontSize":32,"color":"black"},
 "encoding":{"x":{"field":"t","type":"temporal"},"y":{"field":"v","type":"quantitative"},"text":{"field":"txt"}}},
{"data":{"name":"keys"},
 "mark":{"type":"point","filled":true,"clip":true,"opacity":1,"color":"#F2F2F2"},
 "encoding":{"x":{"field":"t","type":"temporal"},"y":{"field":"v","type":"quantitative"},
  "shape":{"field":"q","type":"nominal","scale":{"domain":["1","2","3","4","5","6","7","8"],"range":["square","square","square","square","square","square","square","square"]},
   "legend":{"title":null,"orient":"none","legendX":2270,"legendY":551,"zindex":1,"labelExpr":"''","labelOffset":0,"symbolSize":2139,"symbolStrokeWidth":0,"symbolFillColor":"#F2F2F2","symbolOpacity":1,"rowPadding":0}}}}
]
}
